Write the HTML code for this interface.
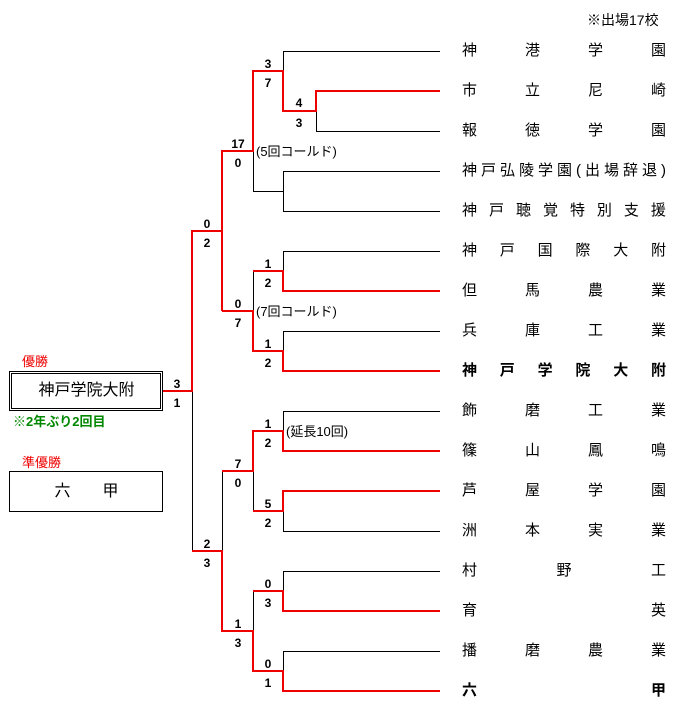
<!DOCTYPE html>
<html><head><meta charset="utf-8"><style>
body{margin:0;width:682px;height:712px;background:#fff;position:relative;overflow:hidden;font-family:"Liberation Sans","Noto Sans CJK JP",sans-serif;}
.t{position:absolute;left:462px;width:204px;display:flex;justify-content:space-between;font-size:15px;line-height:18px;color:#000;}
.s{position:absolute;font-size:12px;font-weight:bold;line-height:14px;width:20px;text-align:center;}
.a{position:absolute;font-size:13px;line-height:15px;white-space:nowrap;}
</style></head><body>
<svg width="682" height="712" style="position:absolute;left:0;top:0" shape-rendering="crispEdges">
<g stroke="#000" stroke-width="1" fill="none">
<path d="M283 51.5H440M316 91.5H440M316 131.5H440M283 171.5H440M283 211.5H440M283 251.5H440M283 291.5H440M283 331.5H440M283 371.5H440M283 411.5H440M283 451.5H440M283 491.5H440M283 531.5H440M283 571.5H440M283 611.5H440M283 651.5H440M283 691.5H440"/>
<path d="M316.5 111V131.5M283.5 51V71M283.5 171V211.5M253 191.5H283.5M253.5 151V191.5M283.5 251V271M283.5 331V351M253.5 311V271M222.5 151V231"/>
<path d="M192.5 391V551M283.5 411V431M283.5 511V531M253.5 471V511M222.5 471V551M283.5 571V591M283.5 651V671M253.5 591V631"/>
</g>
<g stroke="#e00" stroke-width="2" fill="none">
<path d="M316 91H440M316 90V112M283 111H317M283 70V112M253 71H284M253 70V152M222 151H254M222 150V232M192 231H223M192 230V392M163 391H193"/>
<path d="M283 291H440M283 270V292M253 271H284M222 311H254M253 310V352M253 351H284M283 371H440M283 350V372"/>
<path d="M222 311V232"/>
<path d="M283 451H440M283 430V452M253 431H284M253 430V472M222 471H254M283 491H440M283 490V512M253 511H284"/>
<path d="M283 611H440M283 590V612M253 591H284M222 631H254M222 550V632M192 551H223M283 691H440M283 670V692M253 671H284M253 630V672"/>
</g>
<rect x="9.5" y="371.5" width="153" height="39" fill="none" stroke="#000"/>
<rect x="11.5" y="373.5" width="149" height="35" fill="none" stroke="#000"/>
<rect x="9.5" y="471.5" width="153" height="40" fill="none" stroke="#000"/>
</svg>
<div class="a" style="left:587px;top:13px;font-size:14px">※出場17校</div>
<div class="t" style="top:42px"><span>神</span><span>港</span><span>学</span><span>園</span></div>
<div class="t" style="top:82px"><span>市</span><span>立</span><span>尼</span><span>崎</span></div>
<div class="t" style="top:122px"><span>報</span><span>徳</span><span>学</span><span>園</span></div>
<div class="t" style="top:162px"><span>神</span><span>戸</span><span>弘</span><span>陵</span><span>学</span><span>園</span><span>(</span><span>出</span><span>場</span><span>辞</span><span>退</span><span>)</span></div>
<div class="t" style="top:202px"><span>神</span><span>戸</span><span>聴</span><span>覚</span><span>特</span><span>別</span><span>支</span><span>援</span></div>
<div class="t" style="top:242px"><span>神</span><span>戸</span><span>国</span><span>際</span><span>大</span><span>附</span></div>
<div class="t" style="top:282px"><span>但</span><span>馬</span><span>農</span><span>業</span></div>
<div class="t" style="top:322px"><span>兵</span><span>庫</span><span>工</span><span>業</span></div>
<div class="t" style="top:362px;font-weight:bold"><span>神</span><span>戸</span><span>学</span><span>院</span><span>大</span><span>附</span></div>
<div class="t" style="top:402px"><span>飾</span><span>磨</span><span>工</span><span>業</span></div>
<div class="t" style="top:442px"><span>篠</span><span>山</span><span>鳳</span><span>鳴</span></div>
<div class="t" style="top:482px"><span>芦</span><span>屋</span><span>学</span><span>園</span></div>
<div class="t" style="top:522px"><span>洲</span><span>本</span><span>実</span><span>業</span></div>
<div class="t" style="top:562px"><span>村</span><span>野</span><span>工</span></div>
<div class="t" style="top:602px"><span>育</span><span>英</span></div>
<div class="t" style="top:642px"><span>播</span><span>磨</span><span>農</span><span>業</span></div>
<div class="t" style="top:682px;font-weight:bold"><span>六</span><span>甲</span></div>

<div class="s" style="left:258px;top:57px">3</div><div class="s" style="left:258px;top:76px">7</div>
<div class="s" style="left:289px;top:96px">4</div><div class="s" style="left:289px;top:116px">3</div>
<div class="s" style="left:228px;top:137px">17</div><div class="s" style="left:228px;top:156px">0</div>
<div class="s" style="left:258px;top:257px">1</div><div class="s" style="left:258px;top:276px">2</div>
<div class="s" style="left:228px;top:297px">0</div><div class="s" style="left:228px;top:316px">7</div>
<div class="s" style="left:258px;top:337px">1</div><div class="s" style="left:258px;top:356px">2</div>
<div class="s" style="left:197px;top:217px">0</div><div class="s" style="left:197px;top:236px">2</div>
<div class="s" style="left:167px;top:377px">3</div><div class="s" style="left:167px;top:396px">1</div>
<div class="s" style="left:258px;top:417px">1</div><div class="s" style="left:258px;top:436px">2</div>
<div class="s" style="left:228px;top:457px">7</div><div class="s" style="left:228px;top:476px">0</div>
<div class="s" style="left:258px;top:497px">5</div><div class="s" style="left:258px;top:516px">2</div>
<div class="s" style="left:197px;top:537px">2</div><div class="s" style="left:197px;top:556px">3</div>
<div class="s" style="left:258px;top:577px">0</div><div class="s" style="left:258px;top:596px">3</div>
<div class="s" style="left:228px;top:617px">1</div><div class="s" style="left:228px;top:636px">3</div>
<div class="s" style="left:258px;top:657px">0</div><div class="s" style="left:258px;top:676px">1</div>

<div class="a" style="left:256px;top:144px">(5回コールド)</div>
<div class="a" style="left:256px;top:304px">(7回コールド)</div>
<div class="a" style="left:286px;top:424px">(延長10回)</div>

<div class="a" style="left:22px;top:354px;color:#e00;font-size:13px">優勝</div>
<div class="a" style="left:10px;top:381px;width:153px;text-align:center;font-size:16px;line-height:20px">神戸学院大附</div>
<div class="a" style="left:13px;top:414px;color:#080;font-weight:bold;font-size:13px">※2年ぶり2回目</div>
<div class="a" style="left:22px;top:455px;color:#e00;font-size:13px">準優勝</div>
<div class="a" style="left:10px;top:482px;width:153px;text-align:center;font-size:16px;line-height:20px">六　　甲</div>
</body></html>
